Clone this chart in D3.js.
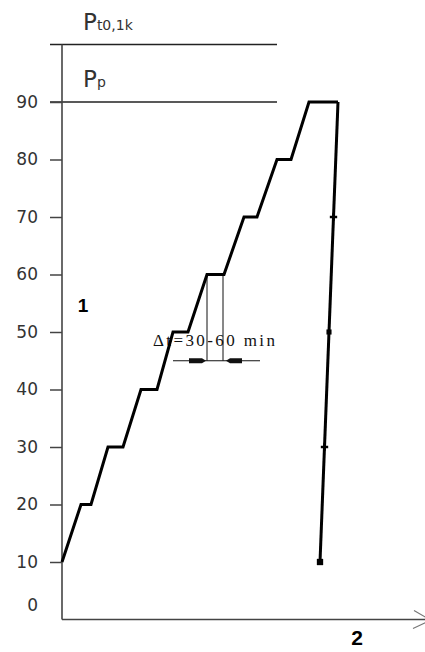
<!DOCTYPE html>
<html>
<head>
<meta charset="utf-8">
<script src="https://cdn.jsdelivr.net/npm/d3@7"></script>
<style>
  html, body { margin: 0; padding: 0; background: #fff; }
  svg { display: block; }
</style>
</head>
<body>
<svg id="chart" width="425" height="652"></svg>
<script>
// Loading programme: time (min) and load level (% of P)
const loadTime  = [0, 38, 58, 92, 122, 158, 190, 222, 252, 290, 324, 364, 390, 430, 458, 494, 552];
const loadLevel = [10, 20, 20, 30, 30, 40, 40, 50, 50, 60, 60, 70, 70, 80, 80, 90, 90];

// Unloading branch with its measurement points
const unloadTime  = [552, 516];
const unloadLevel = [90, 10];
const markTime  = [543, 534, 525, 516];
const markLevel = [70, 50, 30, 10];
const markShape = ["cross", "square", "cross", "square"];

// Axis ticks and reference levels
const yTicks = [10, 20, 30, 40, 50, 60, 70, 80, 90];
const zeroLabel = 0;
const refLevels = [100, 90];
const refNames = [["P", "t0,1k"], ["P", "p"]];

// Hold interval annotation
const holdStart = 290, holdEnd = 322, holdArrowLevel = 45;
const holdText = "\u0394t=30-60 min";

const svg = d3.select("#chart");
const x = d3.scaleLinear().domain([0, 716]).range([62, 420]);
const y = d3.scaleLinear().domain([0, 100]).range([619.5, 44.5]);

const axisColor = "#444";

// Reference lines P_t0,1k and P_p
refLevels.forEach((v, i) => {
  svg.append("line")
    .attr("x1", 50).attr("x2", 277)
    .attr("y1", y(v)).attr("y2", y(v))
    .attr("stroke", "#222").attr("stroke-width", 1.3);
  const t = svg.append("text")
    .attr("x", 83).attr("y", y(v) - 15)
    .attr("fill", "#333")
    .attr("font-family", "DejaVu Sans, sans-serif");
  t.append("tspan").attr("font-size", 23).text(refNames[i][0]);
  t.append("tspan").attr("font-size", 14).text(refNames[i][1]);
});

// Y axis with left ticks
const yAxis = d3.axisLeft(y).tickValues(yTicks).tickSize(12).tickPadding(12).tickFormat(d3.format("d"));
const gy = svg.append("g").attr("transform", "translate(62,0)").call(yAxis);
gy.select(".domain").remove();
gy.selectAll(".tick line").attr("stroke", axisColor).attr("stroke-width", 1.5);
gy.selectAll(".tick text")
  .attr("font-family", "DejaVu Sans, sans-serif")
  .attr("font-size", 17).attr("fill", "#333");
svg.append("text")
  .attr("x", 38).attr("y", y(zeroLabel) - 14)
  .attr("dy", "0.35em").attr("text-anchor", "end")
  .attr("font-family", "DejaVu Sans, sans-serif")
  .attr("font-size", 17).attr("fill", "#333")
  .text(zeroLabel);

svg.append("line")
  .attr("x1", 62).attr("x2", 62)
  .attr("y1", y(100)).attr("y2", y(0))
  .attr("stroke", axisColor).attr("stroke-width", 1.6);

// X axis with open arrowhead
svg.append("line")
  .attr("x1", 62).attr("x2", 425)
  .attr("y1", y(0)).attr("y2", y(0))
  .attr("stroke", axisColor).attr("stroke-width", 1.4);
svg.append("path")
  .attr("d", `M414,${y(0) - 9} L426,${y(0) - 2} M413,${y(0) + 9} L426,${y(0) + 3}`)
  .attr("stroke", "#777").attr("stroke-width", 1.2).attr("fill", "none");

// Hold interval annotation
[holdStart, holdEnd].forEach(t => {
  svg.append("line")
    .attr("x1", x(t)).attr("x2", x(t))
    .attr("y1", y(60)).attr("y2", y(holdArrowLevel))
    .attr("stroke", "#111").attr("stroke-width", 1);
});
svg.append("line")
  .attr("x1", x(holdStart) - 34).attr("x2", x(holdEnd) + 37)
  .attr("y1", y(holdArrowLevel)).attr("y2", y(holdArrowLevel))
  .attr("stroke", "#111").attr("stroke-width", 1);
const ay = y(holdArrowLevel);
svg.append("path")
  .attr("d", `M${x(holdStart) - 18},${ay - 2.5} L${x(holdStart) - 5},${ay - 2.5} L${x(holdStart) - 1},${ay} L${x(holdStart) - 5},${ay + 2.5} L${x(holdStart) - 18},${ay + 2.5} Z`)
  .attr("fill", "#111");
svg.append("path")
  .attr("d", `M${x(holdEnd) + 19},${ay - 2.5} L${x(holdEnd) + 7},${ay - 2.5} L${x(holdEnd) + 3},${ay} L${x(holdEnd) + 7},${ay + 2.5} L${x(holdEnd) + 19},${ay + 2.5} Z`)
  .attr("fill", "#111");
svg.append("text")
  .attr("x", 153).attr("y", ay - 15)
  .attr("font-family", "Liberation Serif, serif")
  .attr("font-size", 17).attr("fill", "#111")
  .attr("textLength", 122).attr("lengthAdjust", "spacing")
  .text(holdText);

// Loading staircase
const line = d3.line().x(d => x(d[0])).y(d => y(d[1]));
svg.append("path")
  .datum(loadTime.map((t, i) => [t, loadLevel[i]]))
  .attr("d", line)
  .attr("fill", "none").attr("stroke", "#000")
  .attr("stroke-width", 3).attr("stroke-linejoin", "miter");

// Unloading branch
svg.append("path")
  .datum(unloadTime.map((t, i) => [t, unloadLevel[i]]))
  .attr("d", line)
  .attr("fill", "none").attr("stroke", "#000")
  .attr("stroke-width", 3);

const shapes = { cross: d3.symbolCross, square: d3.symbolSquare };
markTime.forEach((t, i) => {
  const size = markLevel[i] === 10 ? 40 : (markShape[i] === "square" ? 26 : 30);
  svg.append("path")
    .attr("transform", `translate(${x(t)},${y(markLevel[i])})`)
    .attr("d", d3.symbol().type(shapes[markShape[i]]).size(size)())
    .attr("fill", "#000");
});

// Region labels
svg.append("text")
  .attr("x", 83).attr("y", 312).attr("text-anchor", "middle")
  .attr("font-family", "Liberation Sans, sans-serif").attr("font-weight", "bold")
  .attr("font-size", 19).attr("fill", "#000").text("1");
svg.append("text")
  .attr("x", 357).attr("y", 645).attr("text-anchor", "middle")
  .attr("font-family", "Liberation Sans, sans-serif").attr("font-weight", "bold")
  .attr("font-size", 21).attr("fill", "#000").text("2");
</script>
</body>
</html>
